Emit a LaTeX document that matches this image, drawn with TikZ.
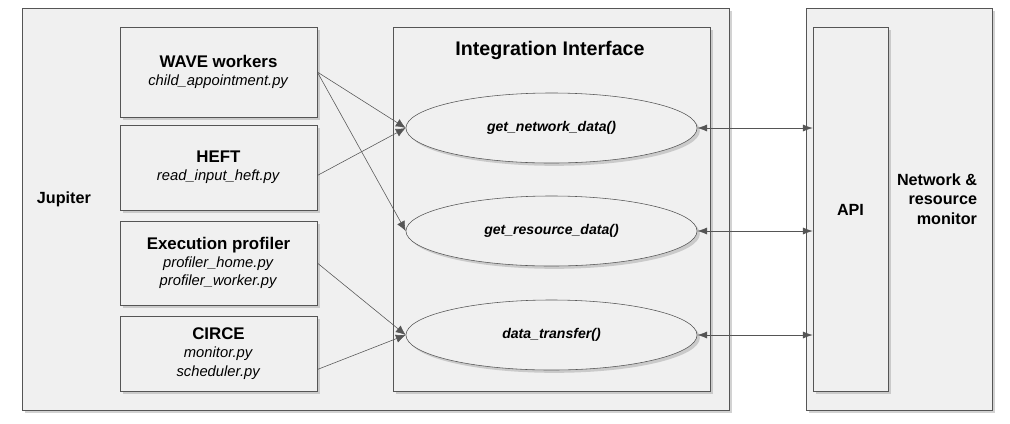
\documentclass[tikz,border=0pt]{standalone}
\usepackage{fontspec}
\setmainfont{Liberation Sans}
\usetikzlibrary{shadows,shapes.geometric,arrows.meta}
\definecolor{boxfill}{HTML}{F0F0F0}
\definecolor{edge}{HTML}{555555}
\tikzset{
  box/.style={draw=edge,fill=boxfill,rectangle,inner sep=0pt,
    drop shadow={shadow xshift=2pt,shadow yshift=-2pt,fill=black!35}},
  comp/.style={box,align=center,font=\fontsize{10.5}{13}\selectfont},
  call/.style={draw=edge,fill=boxfill,ellipse,inner sep=0pt,
    minimum width=7.275cm,minimum height=1.75cm,
    font=\fontsize{10}{12}\selectfont\bfseries\itshape,
    drop shadow={shadow xshift=2pt,shadow yshift=-2pt,fill=black!35}},
  link/.style={draw=edge,-{Latex[length=7pt,width=6pt]}},
  both/.style={draw=edge,{Latex[length=7pt,width=5pt]}-{Latex[length=7pt,width=5pt]}}
}
\begin{document}
\begin{tikzpicture}[x=0.025cm,y=-0.025cm]
  \useasboundingbox (0,0) rectangle (1010,423);
  % outer boxes
  \node[box,minimum width=17.675cm,minimum height=10.05cm] (jupiter) at (375.5,209) {};
  \node[box,minimum width=4.65cm,minimum height=10.05cm] (monitor) at (899,209) {};
  \node[box,minimum width=1.875cm,minimum height=9.1cm] (api) at (850.5,209) {};
  \node[box,minimum width=7.925cm,minimum height=9.1cm] (iface) at (551.5,209) {};
  \node[font=\bfseries\fontsize{11.5}{13}\selectfont,anchor=west] at (32,199) {Jupiter};
  \node[font=\bfseries\fontsize{14}{16}\selectfont] at (550,50) {Integration\ Interface};
  \node[font=\bfseries\fontsize{11.5}{13}\selectfont] at (850.5,210) {API};
  \node[font=\bfseries\fontsize{11.5}{14}\selectfont,align=right] at (937,199) {Network \&\\resource\\monitor};
  % components
  \node[comp,minimum width=4.925cm,minimum height=2.25cm] (wave) at (218.5,72)
    {\textbf{\fontsize{12}{14}\selectfont WAVE workers}\\\textit{child\_appointment.py}};
  \node[comp,minimum width=4.925cm,minimum height=2.125cm] (heft) at (218.5,167.5)
    {\textbf{\fontsize{12}{14}\selectfont HEFT}\\\textit{read\_input\_heft.py}};
  \node[comp,minimum width=4.925cm,minimum height=2.1cm] (prof) at (218.5,263)
    {\textbf{\fontsize{12}{14}\selectfont Execution profiler}\\\textit{profiler\_home.py}\\\textit{profiler\_worker.py}};
  \node[comp,minimum width=4.925cm,minimum height=1.875cm] (circe) at (218.5,353.5)
    {\textbf{\fontsize{12}{14}\selectfont CIRCE}\\\textit{monitor.py}\\\textit{scheduler.py}};
  % calls
  \node[call] (net) at (551.5,128) {get\_network\_data()};
  \node[call] (res) at (551.5,231) {get\_resource\_data()};
  \node[call] (xfer) at (551.5,335) {data\_transfer()};
  % connectors
  \draw[link] (wave.east) -- (net.west);
  \draw[link] (wave.east) -- (res.west);
  \draw[link] ([yshift=-0.2cm]heft.east) -- (net.west);
  \draw[link] (prof.east) -- (xfer.west);
  \draw[link] ([yshift=-0.4cm]circe.east) -- (xfer.west);
  \draw[both] (net.east) -- (api.west |- net.east);
  \draw[both] (res.east) -- (api.west |- res.east);
  \draw[both] (xfer.east) -- (api.west |- xfer.east);
\end{tikzpicture}
\end{document}
